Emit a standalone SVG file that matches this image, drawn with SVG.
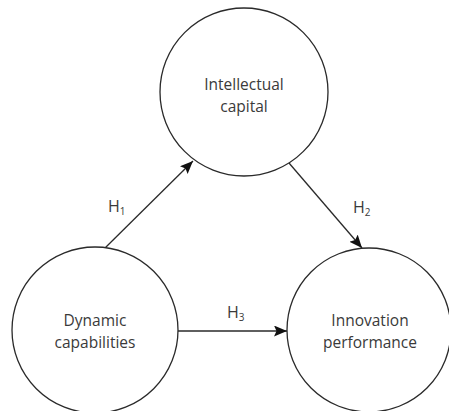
<svg xmlns="http://www.w3.org/2000/svg" width="449" height="411" viewBox="0 0 449 411">
<style>
.node circle{fill:#fff;stroke:#2a2a2a;stroke-width:1.3}
.lbl{font-family:"Open Sans","Liberation Sans",sans-serif;font-size:15.5px;fill:#3a3a3a;text-anchor:middle}
.h{font-family:"Open Sans","Liberation Sans",sans-serif;font-size:16px;fill:#3a3a3a}
.sub{font-size:10px}
#connectors line{stroke:#2a2a2a;stroke-width:1.3;fill:none}
</style>
<defs>
<marker id="arr" markerWidth="14" markerHeight="12" refX="13" refY="5.5" orient="auto" markerUnits="userSpaceOnUse">
<path d="M0,0 L13,5.5 L0,11 L2.5,5.5 z" fill="#111"/>
</marker>
</defs>
<rect width="449" height="411" fill="#fff"/>
<g id="connectors">
<line x1="105" y1="248" x2="193" y2="161" marker-end="url(#arr)"/>
<line x1="289" y1="163" x2="362" y2="248" marker-end="url(#arr)"/>
<line x1="178" y1="331" x2="287" y2="331" marker-end="url(#arr)"/>
<text class="h" x="108" y="212">H<tspan class="sub" dy="3">1</tspan></text>
<text class="h" x="353" y="213">H<tspan class="sub" dy="3">2</tspan></text>
<text class="h" x="227" y="318">H<tspan class="sub" dy="3">3</tspan></text>
</g>
<g id="node-intellectual" class="node">
<circle cx="244" cy="92" r="84"/>
<text class="lbl" x="244" y="90">Intellectual</text>
<text class="lbl" x="244" y="111.5">capital</text>
</g>
<g id="node-dynamic" class="node">
<circle cx="95" cy="330" r="83"/>
<text class="lbl" x="95" y="326">Dynamic</text>
<text class="lbl" x="95" y="347.5">capabilities</text>
</g>
<g id="node-innovation" class="node">
<circle cx="369" cy="330" r="82"/>
<text class="lbl" x="370" y="326">Innovation</text>
<text class="lbl" x="370" y="347.5">performance</text>
</g>
</svg>
